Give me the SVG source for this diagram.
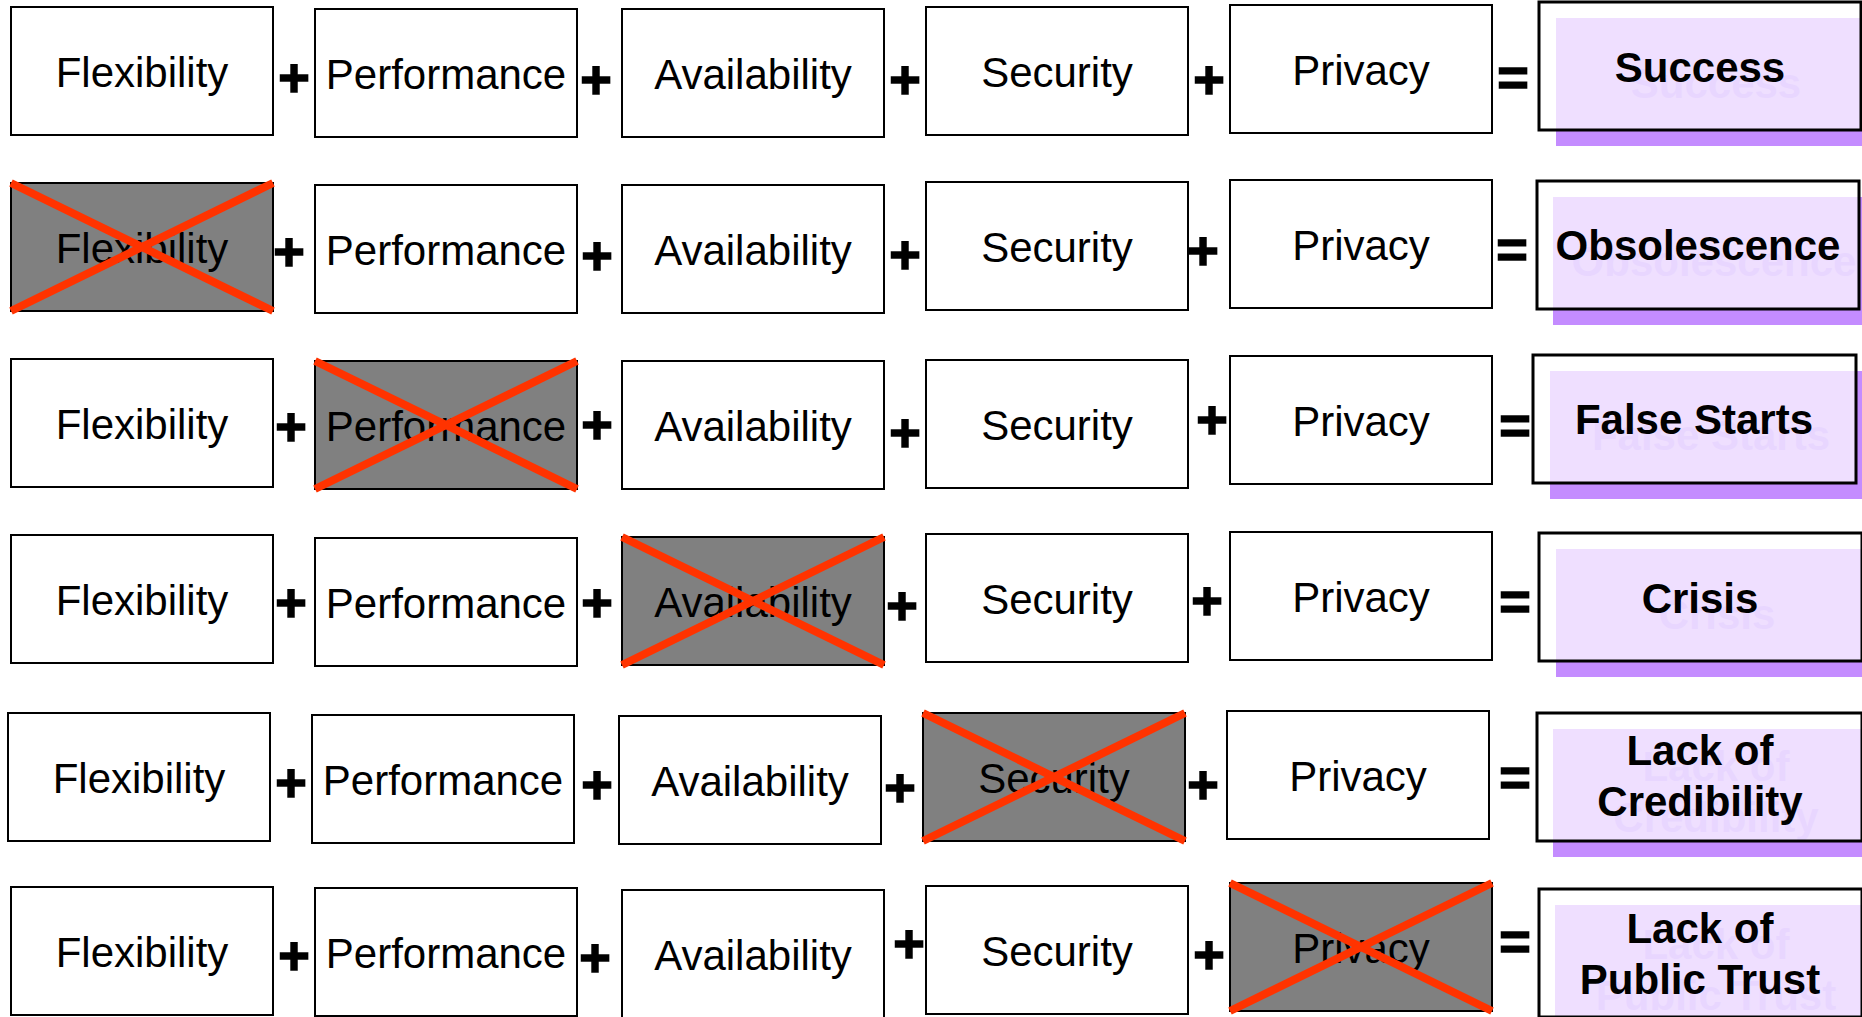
<svg xmlns="http://www.w3.org/2000/svg" width="1862" height="1017" viewBox="0 0 1862 1017">
<style>
.box{fill:#fff;stroke:#000;stroke-width:2}
.off{fill:#808080;stroke:#000;stroke-width:2}
.x{stroke:#ff3300;stroke-width:8;stroke-linecap:butt}
.t{font-family:"Liberation Sans",Arial,sans-serif;font-size:42px;fill:#000;text-anchor:middle}
.r{font-family:"Liberation Sans",Arial,sans-serif;font-size:42px;font-weight:bold;text-anchor:middle}
.rt{fill:#000}
.gt{fill:#ad6dff}
.sh{fill:#c48cff}
.res{fill:#fff;fill-opacity:0.72;stroke:#000;stroke-width:3}
.op{font-family:"Liberation Sans",Arial,sans-serif;font-size:54px;font-weight:bold;fill:#000;text-anchor:middle;stroke:#000;stroke-width:1.5}
</style>

<!-- Row 1 -->
<g id="r1-flex"><rect class="box" x="11" y="7" width="262" height="128"/><text class="t" x="142" y="87">Flexibility</text></g>
<g id="r1-perf"><rect class="box" x="315" y="9" width="262" height="128"/><text class="t" x="446" y="89">Performance</text></g>
<g id="r1-avail"><rect class="box" x="622" y="9" width="262" height="128"/><text class="t" x="753" y="89">Availability</text></g>
<g id="r1-sec"><rect class="box" x="926" y="7" width="262" height="128"/><text class="t" x="1057" y="87">Security</text></g>
<g id="r1-priv"><rect class="box" x="1230" y="5" width="262" height="128"/><text class="t" x="1361" y="85">Privacy</text></g>
<g id="r1-result">
<rect class="sh" x="1556" y="18" width="322" height="128"/>
<text class="r gt" x="1716" y="98">Success</text>
<rect class="res" x="1539" y="2" width="322" height="128"/>
<text class="r rt" x="1700" y="82">Success</text>
</g>

<!-- Row 2 -->
<g id="r2-flex"><rect class="off" x="11" y="183" width="262" height="128"/><text class="t" x="142" y="263">Flexibility</text><line class="x" x1="11" y1="183" x2="273" y2="311"/><line class="x" x1="11" y1="311" x2="273" y2="183"/></g>
<g id="r2-perf"><rect class="box" x="315" y="185" width="262" height="128"/><text class="t" x="446" y="265">Performance</text></g>
<g id="r2-avail"><rect class="box" x="622" y="185" width="262" height="128"/><text class="t" x="753" y="265">Availability</text></g>
<g id="r2-sec"><rect class="box" x="926" y="182" width="262" height="128"/><text class="t" x="1057" y="262">Security</text></g>
<g id="r2-priv"><rect class="box" x="1230" y="180" width="262" height="128"/><text class="t" x="1361" y="260">Privacy</text></g>
<g id="r2-result">
<rect class="sh" x="1553" y="197" width="322" height="128"/>
<text class="r gt" x="1714" y="276">Obsolescence</text>
<rect class="res" x="1537" y="181" width="322" height="128"/>
<text class="r rt" x="1698" y="260">Obsolescence</text>
</g>

<!-- Row 3 -->
<g id="r3-flex"><rect class="box" x="11" y="359" width="262" height="128"/><text class="t" x="142" y="439">Flexibility</text></g>
<g id="r3-perf"><rect class="off" x="315" y="361" width="262" height="128"/><text class="t" x="446" y="441">Performance</text><line class="x" x1="315" y1="361" x2="577" y2="489"/><line class="x" x1="315" y1="489" x2="577" y2="361"/></g>
<g id="r3-avail"><rect class="box" x="622" y="361" width="262" height="128"/><text class="t" x="753" y="441">Availability</text></g>
<g id="r3-sec"><rect class="box" x="926" y="360" width="262" height="128"/><text class="t" x="1057" y="440">Security</text></g>
<g id="r3-priv"><rect class="box" x="1230" y="356" width="262" height="128"/><text class="t" x="1361" y="436">Privacy</text></g>
<g id="r3-result">
<rect class="sh" x="1550" y="371" width="323" height="128"/>
<text class="r gt" x="1711" y="450">False Starts</text>
<rect class="res" x="1533" y="355" width="323" height="128"/>
<text class="r rt" x="1694" y="434">False Starts</text>
</g>

<!-- Row 4 -->
<g id="r4-flex"><rect class="box" x="11" y="535" width="262" height="128"/><text class="t" x="142" y="615">Flexibility</text></g>
<g id="r4-perf"><rect class="box" x="315" y="538" width="262" height="128"/><text class="t" x="446" y="618">Performance</text></g>
<g id="r4-avail"><rect class="off" x="622" y="537" width="262" height="128"/><text class="t" x="753" y="617">Availability</text><line class="x" x1="622" y1="537" x2="884" y2="665"/><line class="x" x1="622" y1="665" x2="884" y2="537"/></g>
<g id="r4-sec"><rect class="box" x="926" y="534" width="262" height="128"/><text class="t" x="1057" y="614">Security</text></g>
<g id="r4-priv"><rect class="box" x="1230" y="532" width="262" height="128"/><text class="t" x="1361" y="612">Privacy</text></g>
<g id="r4-result">
<rect class="sh" x="1556" y="549" width="323" height="128"/>
<text class="r gt" x="1717" y="629">Crisis</text>
<rect class="res" x="1539" y="533" width="323" height="128"/>
<text class="r rt" x="1700" y="613">Crisis</text>
</g>

<!-- Row 5 -->
<g id="r5-flex"><rect class="box" x="8" y="713" width="262" height="128"/><text class="t" x="139" y="793">Flexibility</text></g>
<g id="r5-perf"><rect class="box" x="312" y="715" width="262" height="128"/><text class="t" x="443" y="795">Performance</text></g>
<g id="r5-avail"><rect class="box" x="619" y="716" width="262" height="128"/><text class="t" x="750" y="796">Availability</text></g>
<g id="r5-sec"><rect class="off" x="923" y="713" width="262" height="128"/><text class="t" x="1054" y="793">Security</text><line class="x" x1="923" y1="713" x2="1185" y2="841"/><line class="x" x1="923" y1="841" x2="1185" y2="713"/></g>
<g id="r5-priv"><rect class="box" x="1227" y="711" width="262" height="128"/><text class="t" x="1358" y="791">Privacy</text></g>
<g id="r5-result">
<rect class="sh" x="1553" y="729" width="325" height="128"/>
<text class="r gt" x="1716" y="781">Lack of</text>
<text class="r gt" x="1716" y="832">Credibility</text>
<rect class="res" x="1537" y="713" width="325" height="128"/>
<text class="r rt" x="1700" y="765">Lack of</text>
<text class="r rt" x="1700" y="816">Credibility</text>
</g>

<!-- Row 6 -->
<g id="r6-flex"><rect class="box" x="11" y="887" width="262" height="128"/><text class="t" x="142" y="967">Flexibility</text></g>
<g id="r6-perf"><rect class="box" x="315" y="888" width="262" height="128"/><text class="t" x="446" y="968">Performance</text></g>
<g id="r6-avail"><rect class="box" x="622" y="890" width="262" height="128"/><text class="t" x="753" y="970">Availability</text></g>
<g id="r6-sec"><rect class="box" x="926" y="886" width="262" height="128"/><text class="t" x="1057" y="966">Security</text></g>
<g id="r6-priv"><rect class="off" x="1230" y="883" width="262" height="128"/><text class="t" x="1361" y="963">Privacy</text><line class="x" x1="1230" y1="883" x2="1492" y2="1011"/><line class="x" x1="1230" y1="1011" x2="1492" y2="883"/></g>
<g id="r6-result">
<rect class="sh" x="1555" y="905" width="323" height="128"/>
<text class="r gt" x="1716" y="959">Lack of</text>
<text class="r gt" x="1716" y="1010">Public Trust</text>
<rect class="res" x="1539" y="889" width="323" height="128"/>
<text class="r rt" x="1700" y="943">Lack of</text>
<text class="r rt" x="1700" y="994">Public Trust</text>
</g>

<!-- Operators -->
<g id="operators">
<text class="op" x="294" y="96">+</text><text class="op" x="596" y="98">+</text><text class="op" x="905" y="98">+</text><text class="op" x="1209" y="98">+</text><text class="op" x="1513" y="96">=</text>
<text class="op" x="289" y="270">+</text><text class="op" x="597" y="274">+</text><text class="op" x="905" y="273">+</text><text class="op" x="1203" y="269">+</text><text class="op" x="1512" y="268">=</text>
<text class="op" x="291" y="445">+</text><text class="op" x="597" y="443">+</text><text class="op" x="905" y="451">+</text><text class="op" x="1212" y="438">+</text><text class="op" x="1515" y="444">=</text>
<text class="op" x="291" y="621">+</text><text class="op" x="597" y="621">+</text><text class="op" x="902" y="624">+</text><text class="op" x="1207" y="619">+</text><text class="op" x="1515" y="620">=</text>
<text class="op" x="291" y="801">+</text><text class="op" x="597" y="803">+</text><text class="op" x="900" y="806">+</text><text class="op" x="1203" y="803">+</text><text class="op" x="1515" y="796">=</text>
<text class="op" x="294" y="974">+</text><text class="op" x="595" y="976">+</text><text class="op" x="909" y="962">+</text><text class="op" x="1209" y="973">+</text><text class="op" x="1515" y="960">=</text>
</g>
</svg>
